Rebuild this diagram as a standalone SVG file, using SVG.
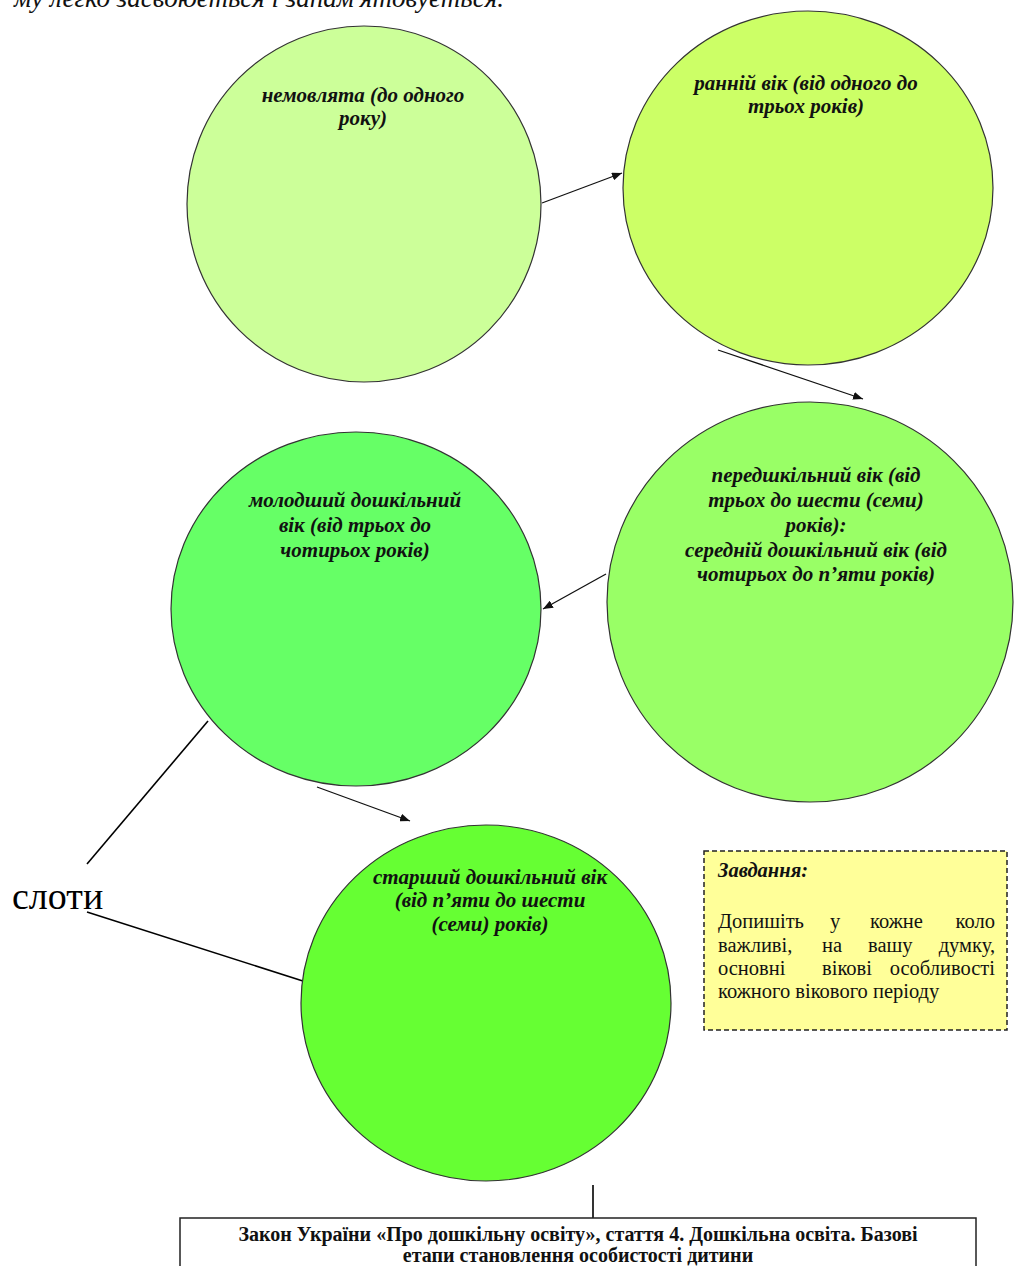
<svg xmlns="http://www.w3.org/2000/svg" width="1014" height="1266" viewBox="0 0 1014 1266">
<style>
.bg{fill:#ffffff}
.circ{stroke:#333333;stroke-width:1.2}
.ct{font-family:"Liberation Serif","Times New Roman",serif;font-style:italic;font-weight:bold;font-size:21px;fill:#111111;text-anchor:middle}
.conn{stroke:#111111;stroke-width:1.3;fill:none}
.plain{stroke:#000000;stroke-width:1.6;fill:none}
.task{fill:#ffff99;stroke:#222222;stroke-width:1.5;stroke-dasharray:5,3}
.tt{font-family:"Liberation Serif","Times New Roman",serif;font-size:20.5px;fill:#111111}
.law{font-family:"Liberation Serif","Times New Roman",serif;font-weight:bold;font-size:20px;fill:#111111;text-anchor:middle}
</style>
<defs>
<marker id="arr" viewBox="0 0 10 8" refX="10" refY="4" markerWidth="10" markerHeight="8" markerUnits="userSpaceOnUse" orient="auto">
<path d="M0,0 L10,4 L0,8 z" fill="#111111"/>
</marker>
</defs>
<rect class="bg" x="0" y="0" width="1014" height="1266"/>
<text x="14" y="7" font-family="Liberation Serif, Times New Roman, serif" font-style="italic" font-size="27" fill="#111">му легко засвоюється і запам'ятовується.</text>

<g id="connectors">
<line class="conn" x1="542" y1="203" x2="622" y2="173" marker-end="url(#arr)"/>
<line class="conn" x1="718" y1="350" x2="863" y2="399" marker-end="url(#arr)"/>
<line class="conn" x1="606" y1="574" x2="543" y2="609" marker-end="url(#arr)"/>
<line class="conn" x1="317" y1="787" x2="410" y2="821" marker-end="url(#arr)"/>
<line class="plain" x1="87" y1="864" x2="208" y2="721"/>
<line class="plain" x1="87" y1="912" x2="306" y2="982"/>
<line class="plain" x1="593" y1="1185" x2="593" y2="1222"/>
</g>

<g id="node-infants">
<ellipse class="circ" cx="364" cy="204" rx="177" ry="178" fill="#ccff99"/>
<text class="ct" x="363" y="102">немовлята (до одного</text>
<text class="ct" x="363" y="125">року)</text>
</g>

<g id="node-early">
<ellipse class="circ" cx="808" cy="188" rx="185" ry="177" fill="#ccff66"/>
<text class="ct" x="806" y="90">ранній вік (від одного до</text>
<text class="ct" x="806" y="113">трьох років)</text>
</g>

<g id="node-preschool">
<ellipse class="circ" cx="810" cy="602" rx="203" ry="200" fill="#99ff66"/>
<text class="ct" x="816" y="482">передшкільний вік (від</text>
<text class="ct" x="816" y="507">трьох до шести (семи)</text>
<text class="ct" x="816" y="532">років):</text>
<text class="ct" x="816" y="557">середній дошкільний вік (від</text>
<text class="ct" x="816" y="581">чотирьох до п’яти років)</text>
</g>

<g id="node-junior">
<ellipse class="circ" cx="356" cy="609" rx="185" ry="177" fill="#66ff66"/>
<text class="ct" x="355" y="507">молодший дошкільний</text>
<text class="ct" x="355" y="532">вік (від трьох до</text>
<text class="ct" x="355" y="557">чотирьох років)</text>
</g>

<g id="node-senior">
<ellipse class="circ" cx="486" cy="1003" rx="185" ry="178" fill="#66ff33"/>
<text class="ct" x="490" y="884">старший дошкільний вік</text>
<text class="ct" x="490" y="907">(від п’яти до шести</text>
<text class="ct" x="490" y="931">(семи) років)</text>
</g>

<g id="label-slots">
<text x="12" y="909" font-family="Liberation Serif, Times New Roman, serif" font-size="38" fill="#000">слоти</text>
</g>

<g id="node-task">
<rect class="task" x="704" y="851" width="303" height="179"/>
<text class="tt" x="718" y="877" font-style="italic" font-weight="bold">Завдання:</text>
<text class="tt" x="718" y="928">Допишіть</text>
<text class="tt" x="830" y="928">у</text>
<text class="tt" x="870" y="928">кожне</text>
<text class="tt" x="995" y="928" text-anchor="end">коло</text>
<text class="tt" x="718" y="952">важливі,</text>
<text class="tt" x="822" y="952">на</text>
<text class="tt" x="868" y="952">вашу</text>
<text class="tt" x="995" y="952" text-anchor="end">думку,</text>
<text class="tt" x="718" y="975">основні</text>
<text class="tt" x="822" y="975">вікові</text>
<text class="tt" x="995" y="975" text-anchor="end">особливості</text>
<text class="tt" x="718" y="998">кожного вікового періоду</text>
</g>

<g id="node-law">
<rect x="180" y="1218" width="796" height="70" fill="#ffffff" stroke="#222222" stroke-width="1.5"/>
<text class="law" x="578" y="1241">Закон України «Про дошкільну освіту», стаття 4. Дошкільна освіта. Базові</text>
<text class="law" x="578" y="1262">етапи становлення особистості дитини</text>
</g>
</svg>
